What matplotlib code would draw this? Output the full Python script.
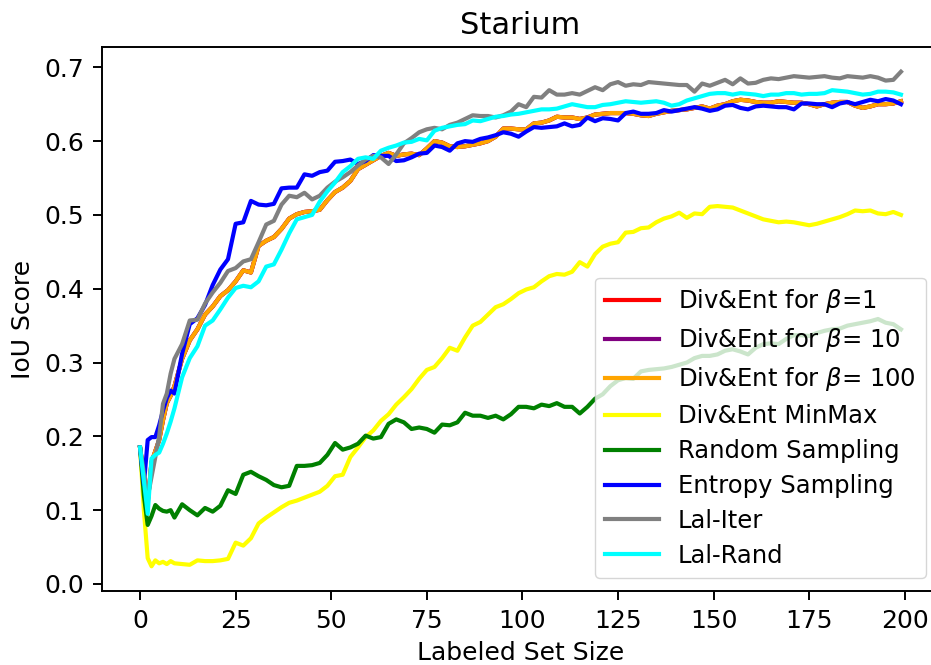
import matplotlib
matplotlib.use("Agg")
import matplotlib.pyplot as plt
import numpy as np

# labeled set size (finer steps at the start, then every 2)
labeled_size = list(range(0, 10)) + list(range(11, 200, 2))

div_ent_b100 = [
    0.185, 0.145, 0.110, 0.165, 0.180, 0.195, 0.222, 0.245, 0.255, 0.268,
    0.305, 0.330, 0.345, 0.365, 0.376, 0.390, 0.398, 0.410, 0.425, 0.422,
    0.458, 0.465, 0.470, 0.481, 0.495, 0.501, 0.504, 0.505, 0.507, 0.520,
    0.531, 0.537, 0.546, 0.562, 0.568, 0.574, 0.580, 0.584, 0.580, 0.582,
    0.583, 0.581, 0.590, 0.600, 0.598, 0.593, 0.592, 0.593, 0.595, 0.597,
    0.600, 0.606, 0.617, 0.617, 0.616, 0.616, 0.624, 0.625, 0.628, 0.633,
    0.632, 0.632, 0.630, 0.632, 0.636, 0.637, 0.638, 0.638, 0.638, 0.637,
    0.635, 0.634, 0.637, 0.639, 0.641, 0.642, 0.643, 0.645, 0.647, 0.644,
    0.648, 0.650, 0.654, 0.656, 0.655, 0.653, 0.652, 0.652, 0.654, 0.653,
    0.652, 0.652, 0.650, 0.647, 0.650, 0.652, 0.653, 0.653, 0.648, 0.645,
    0.647, 0.650, 0.650, 0.651, 0.654,
]
# beta=1 and beta=10 curves lie under the beta=100 one
div_ent_b1 = list(div_ent_b100)
div_ent_b10 = list(div_ent_b100)

div_ent_minmax = [
    0.185, 0.100, 0.035, 0.024, 0.032, 0.028, 0.030, 0.027, 0.031, 0.028,
    0.027, 0.026, 0.032, 0.031, 0.031, 0.032, 0.034, 0.056, 0.052, 0.062,
    0.082, 0.090, 0.097, 0.104, 0.110, 0.113, 0.117, 0.121, 0.125, 0.133,
    0.146, 0.148, 0.172, 0.185, 0.199, 0.208, 0.221, 0.230, 0.243, 0.253,
    0.264, 0.278, 0.290, 0.294, 0.306, 0.320, 0.316, 0.334, 0.350, 0.355,
    0.365, 0.375, 0.379, 0.386, 0.394, 0.399, 0.402, 0.410, 0.417, 0.420,
    0.419, 0.423, 0.436, 0.430, 0.447, 0.457, 0.461, 0.463, 0.476, 0.477,
    0.482, 0.483, 0.490, 0.495, 0.498, 0.503, 0.496, 0.502, 0.501, 0.511,
    0.512, 0.511, 0.510, 0.506, 0.502, 0.498, 0.494, 0.492, 0.490, 0.491,
    0.490, 0.488, 0.486, 0.488, 0.491, 0.494, 0.497, 0.501, 0.506, 0.505,
    0.506, 0.502, 0.501, 0.504, 0.500,
]

random_sampling = [
    0.185, 0.120, 0.080, 0.092, 0.107, 0.102, 0.099, 0.098, 0.100, 0.090,
    0.108, 0.100, 0.093, 0.103, 0.098, 0.106, 0.127, 0.122, 0.148, 0.152,
    0.146, 0.141, 0.134, 0.131, 0.133, 0.160, 0.160, 0.161, 0.164, 0.175,
    0.191, 0.182, 0.185, 0.190, 0.201, 0.197, 0.199, 0.217, 0.223, 0.219,
    0.210, 0.212, 0.210, 0.205, 0.216, 0.215, 0.219, 0.232, 0.228, 0.228,
    0.225, 0.228, 0.223, 0.230, 0.240, 0.240, 0.238, 0.243, 0.241, 0.245,
    0.240, 0.240, 0.231, 0.240, 0.251, 0.257, 0.268, 0.276, 0.279, 0.278,
    0.288, 0.290, 0.291, 0.292, 0.294, 0.297, 0.300, 0.306, 0.309, 0.309,
    0.311, 0.316, 0.318, 0.315, 0.311, 0.320, 0.325, 0.326, 0.325, 0.332,
    0.337, 0.337, 0.336, 0.340, 0.343, 0.345, 0.346, 0.350, 0.352, 0.354,
    0.356, 0.359, 0.354, 0.352, 0.345,
]

entropy_sampling = [
    0.185, 0.135, 0.195, 0.199, 0.199, 0.215, 0.235, 0.252, 0.262, 0.258,
    0.312, 0.352, 0.360, 0.378, 0.405, 0.426, 0.440, 0.488, 0.490, 0.519,
    0.514, 0.513, 0.515, 0.536, 0.537, 0.537, 0.555, 0.553, 0.558, 0.560,
    0.572, 0.573, 0.575, 0.569, 0.573, 0.581, 0.580, 0.580, 0.573, 0.574,
    0.578, 0.583, 0.584, 0.594, 0.592, 0.587, 0.597, 0.600, 0.599, 0.603,
    0.605, 0.608, 0.612, 0.610, 0.606, 0.613, 0.619, 0.618, 0.619, 0.620,
    0.624, 0.620, 0.622, 0.632, 0.627, 0.631, 0.630, 0.628, 0.638, 0.640,
    0.637, 0.637, 0.638, 0.642, 0.640, 0.642, 0.644, 0.646, 0.644, 0.641,
    0.643, 0.648, 0.649, 0.645, 0.643, 0.647, 0.648, 0.647, 0.646, 0.646,
    0.643, 0.651, 0.651, 0.650, 0.650, 0.646, 0.651, 0.653, 0.650, 0.653,
    0.656, 0.654, 0.657, 0.655, 0.650,
]

lal_iter = [
    0.185, 0.150, 0.118, 0.145, 0.172, 0.200, 0.244, 0.258, 0.285, 0.305,
    0.325, 0.357, 0.358, 0.380, 0.395, 0.408, 0.424, 0.428, 0.437, 0.440,
    0.463, 0.487, 0.492, 0.514, 0.526, 0.524, 0.530, 0.521, 0.526, 0.537,
    0.545, 0.551, 0.558, 0.567, 0.575, 0.580, 0.578, 0.569, 0.582, 0.597,
    0.604, 0.612, 0.616, 0.618, 0.616, 0.622, 0.625, 0.630, 0.635, 0.634,
    0.634, 0.632, 0.635, 0.640, 0.650, 0.646, 0.660, 0.659, 0.669, 0.663,
    0.663, 0.665, 0.663, 0.668, 0.673, 0.669, 0.677, 0.680, 0.675, 0.677,
    0.676, 0.680, 0.679, 0.678, 0.677, 0.676, 0.676, 0.667, 0.678, 0.675,
    0.679, 0.683, 0.677, 0.685, 0.678, 0.679, 0.683, 0.685, 0.684, 0.686,
    0.688, 0.687, 0.686, 0.687, 0.688, 0.686, 0.685, 0.688, 0.687, 0.686,
    0.688, 0.686, 0.682, 0.683, 0.694,
]

lal_rand = [
    0.185, 0.140, 0.095, 0.170, 0.175, 0.178, 0.190, 0.204, 0.220, 0.238,
    0.280, 0.306, 0.322, 0.350, 0.357, 0.372, 0.388, 0.401, 0.404, 0.402,
    0.410, 0.430, 0.433, 0.453, 0.475, 0.494, 0.497, 0.500, 0.518, 0.532,
    0.544, 0.558, 0.566, 0.576, 0.578, 0.576, 0.587, 0.591, 0.594, 0.598,
    0.599, 0.603, 0.601, 0.614, 0.618, 0.620, 0.622, 0.623, 0.628, 0.627,
    0.630, 0.633, 0.634, 0.636, 0.637, 0.639, 0.641, 0.643, 0.643, 0.644,
    0.647, 0.650, 0.648, 0.646, 0.646, 0.649, 0.650, 0.652, 0.654, 0.653,
    0.652, 0.653, 0.654, 0.652, 0.648, 0.650, 0.655, 0.658, 0.661, 0.664,
    0.665, 0.665, 0.663, 0.665, 0.664, 0.663, 0.661, 0.663, 0.663, 0.665,
    0.665, 0.663, 0.664, 0.664, 0.665, 0.669, 0.668, 0.667, 0.665, 0.663,
    0.664, 0.667, 0.667, 0.666, 0.663,
]

series_names = [
    r"Div&Ent for $\beta$=1",
    r"Div&Ent for $\beta$= 10",
    r"Div&Ent for $\beta$= 100",
    "Div&Ent MinMax",
    "Random Sampling",
    "Entropy Sampling",
    "Lal-Iter",
    "Lal-Rand",
]
series_values = [
    div_ent_b1, div_ent_b10, div_ent_b100, div_ent_minmax,
    random_sampling, entropy_sampling, lal_iter, lal_rand,
]
series_colors = ["red", "purple", "orange", "yellow", "green", "blue", "gray", "cyan"]

plt.rcParams["font.family"] = ["DejaVu Sans"]
plt.rcParams["font.size"] = 18
plt.rcParams["axes.linewidth"] = 1.4
plt.rcParams["xtick.major.size"] = 6.3
plt.rcParams["ytick.major.size"] = 6.3
plt.rcParams["xtick.major.width"] = 1.4
plt.rcParams["ytick.major.width"] = 1.4
plt.rcParams["xtick.major.pad"] = 6.3
plt.rcParams["ytick.major.pad"] = 6.3

fig = plt.figure(figsize=(9.31, 6.65), dpi=100)
# the source image is cut on the right, so the axes run past the figure edge
ax = fig.add_axes([102 / 931, 74 / 665, 837 / 931, 544 / 665])
ax.spines["right"].set_visible(False)

for name, vals, col in zip(series_names, series_values, series_colors):
    ax.plot(labeled_size, vals, color=col, linewidth=3.0, label=name)

ax.set_title("Starium", fontsize=22, pad=9)
ax.set_xlabel("Labeled Set Size", labelpad=6)
ax.set_ylabel("IoU Score", labelpad=7)
ax.set_xticks(np.arange(0, 201, 25))
ax.set_yticks(np.arange(0, 0.71, 0.1))
ax.legend(loc="lower right", fontsize=17.5, handlelength=2.2,
          labelspacing=0.45, borderaxespad=0.55)

fig.savefig("out.png", dpi=100)
